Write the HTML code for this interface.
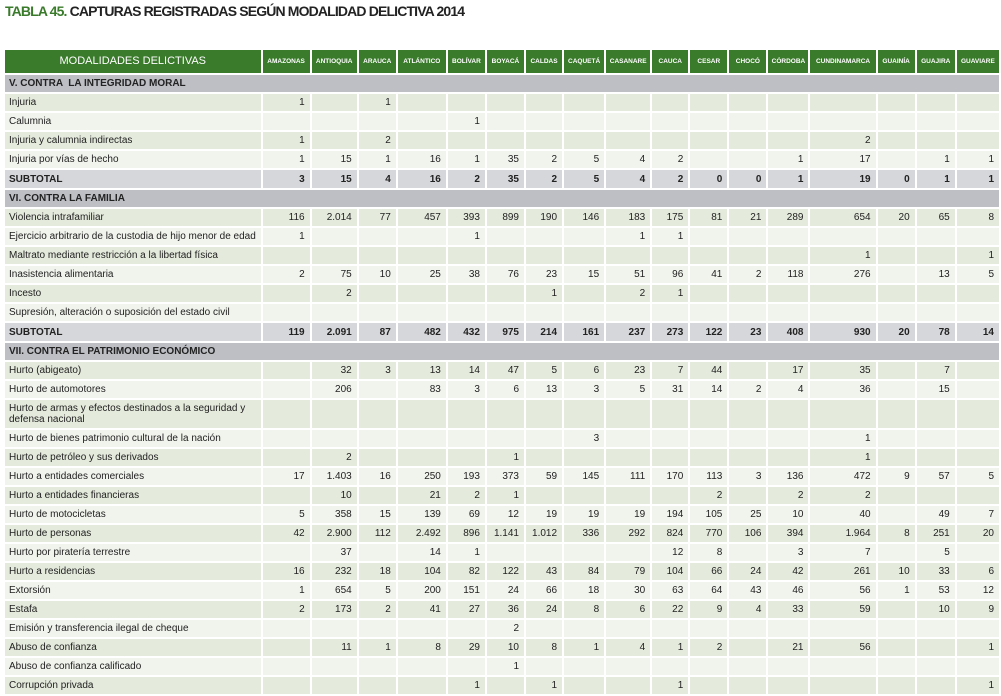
<!DOCTYPE html>
<html><head><meta charset="utf-8">
<style>
body{margin:0;background:#fff;width:1001px;height:695px;overflow:hidden;font-family:"Liberation Sans",sans-serif;}
.t{position:absolute;left:5px;top:3px;font-size:14px;font-weight:bold;color:#222;letter-spacing:-0.85px}
.t span{color:#3a7a2b}
table{position:absolute;left:3px;top:48px;border-collapse:separate;border-spacing:2px;table-layout:fixed;width:998px}
td{padding:0 5px 0 0;font-size:10px;color:#222;text-align:right;height:17px;white-space:nowrap;overflow:hidden;line-height:11px}
td:first-child{text-align:left;padding:0 0 0 4px}
tr.h td{background:#3a7a2b;color:#fff;font-weight:bold;font-size:6.5px;text-align:center;padding:0;height:23px}
tr.h td:first-child{font-size:11px;font-weight:normal;text-align:center}
tr.s td{background:#bdbfc4;font-weight:bold;font-size:10px}
tr.u td{background:#d6d7da;font-weight:bold;height:18px}
tr.d td{background:#e4eadc}
tr.l td{background:#f1f4ed}
tr.w td{height:28px}
tr.w td:first-child{white-space:normal}
</style></head><body>
<div class="t"><span>TABLA 45.</span> CAPTURAS REGISTRADAS SEGÚN MODALIDAD DELICTIVA 2014</div>
<table>
<colgroup><col style="width:255px"><col style="width:47px"><col style="width:45px"><col style="width:37px"><col style="width:48px"><col style="width:37px"><col style="width:37px"><col style="width:36px"><col style="width:40px"><col style="width:44px"><col style="width:36px"><col style="width:37px"><col style="width:37px"><col style="width:40px"><col style="width:65px"><col style="width:37px"><col style="width:38px"><col style="width:42px"></colgroup>
<tr class="h"><td>MODALIDADES DELICTIVAS</td><td>AMAZONAS</td><td>ANTIOQUIA</td><td>ARAUCA</td><td>ATLÁNTICO</td><td>BOLÍVAR</td><td>BOYACÁ</td><td>CALDAS</td><td>CAQUETÁ</td><td>CASANARE</td><td>CAUCA</td><td>CESAR</td><td>CHOCÓ</td><td>CÓRDOBA</td><td>CUNDINAMARCA</td><td>GUAINÍA</td><td>GUAJIRA</td><td>GUAVIARE</td></tr>
<tr class="s"><td colspan="18">V. CONTRA &nbsp;LA INTEGRIDAD MORAL</td></tr>
<tr class="d"><td>Injuria</td><td>1</td><td></td><td>1</td><td></td><td></td><td></td><td></td><td></td><td></td><td></td><td></td><td></td><td></td><td></td><td></td><td></td><td></td></tr>
<tr class="l"><td>Calumnia</td><td></td><td></td><td></td><td></td><td>1</td><td></td><td></td><td></td><td></td><td></td><td></td><td></td><td></td><td></td><td></td><td></td><td></td></tr>
<tr class="d"><td>Injuria y calumnia indirectas</td><td>1</td><td></td><td>2</td><td></td><td></td><td></td><td></td><td></td><td></td><td></td><td></td><td></td><td></td><td>2</td><td></td><td></td><td></td></tr>
<tr class="l"><td>Injuria por vías de hecho</td><td>1</td><td>15</td><td>1</td><td>16</td><td>1</td><td>35</td><td>2</td><td>5</td><td>4</td><td>2</td><td></td><td></td><td>1</td><td>17</td><td></td><td>1</td><td>1</td></tr>
<tr class="u"><td>SUBTOTAL</td><td>3</td><td>15</td><td>4</td><td>16</td><td>2</td><td>35</td><td>2</td><td>5</td><td>4</td><td>2</td><td>0</td><td>0</td><td>1</td><td>19</td><td>0</td><td>1</td><td>1</td></tr>
<tr class="s"><td colspan="18">VI. CONTRA LA FAMILIA</td></tr>
<tr class="d"><td>Violencia intrafamiliar</td><td>116</td><td>2.014</td><td>77</td><td>457</td><td>393</td><td>899</td><td>190</td><td>146</td><td>183</td><td>175</td><td>81</td><td>21</td><td>289</td><td>654</td><td>20</td><td>65</td><td>8</td></tr>
<tr class="l"><td>Ejercicio arbitrario de la custodia de hijo menor de edad</td><td>1</td><td></td><td></td><td></td><td>1</td><td></td><td></td><td></td><td>1</td><td>1</td><td></td><td></td><td></td><td></td><td></td><td></td><td></td></tr>
<tr class="d"><td>Maltrato mediante restricción a la libertad física</td><td></td><td></td><td></td><td></td><td></td><td></td><td></td><td></td><td></td><td></td><td></td><td></td><td></td><td>1</td><td></td><td></td><td>1</td></tr>
<tr class="l"><td>Inasistencia alimentaria</td><td>2</td><td>75</td><td>10</td><td>25</td><td>38</td><td>76</td><td>23</td><td>15</td><td>51</td><td>96</td><td>41</td><td>2</td><td>118</td><td>276</td><td></td><td>13</td><td>5</td></tr>
<tr class="d"><td>Incesto</td><td></td><td>2</td><td></td><td></td><td></td><td></td><td>1</td><td></td><td>2</td><td>1</td><td></td><td></td><td></td><td></td><td></td><td></td><td></td></tr>
<tr class="l"><td>Supresión, alteración o suposición del estado civil</td><td></td><td></td><td></td><td></td><td></td><td></td><td></td><td></td><td></td><td></td><td></td><td></td><td></td><td></td><td></td><td></td><td></td></tr>
<tr class="u"><td>SUBTOTAL</td><td>119</td><td>2.091</td><td>87</td><td>482</td><td>432</td><td>975</td><td>214</td><td>161</td><td>237</td><td>273</td><td>122</td><td>23</td><td>408</td><td>930</td><td>20</td><td>78</td><td>14</td></tr>
<tr class="s"><td colspan="18">VII. CONTRA EL PATRIMONIO ECONÓMICO</td></tr>
<tr class="d"><td>Hurto (abigeato)</td><td></td><td>32</td><td>3</td><td>13</td><td>14</td><td>47</td><td>5</td><td>6</td><td>23</td><td>7</td><td>44</td><td></td><td>17</td><td>35</td><td></td><td>7</td><td></td></tr>
<tr class="l"><td>Hurto de automotores</td><td></td><td>206</td><td></td><td>83</td><td>3</td><td>6</td><td>13</td><td>3</td><td>5</td><td>31</td><td>14</td><td>2</td><td>4</td><td>36</td><td></td><td>15</td><td></td></tr>
<tr class="d w"><td>Hurto de armas y efectos destinados a la seguridad y defensa nacional</td><td></td><td></td><td></td><td></td><td></td><td></td><td></td><td></td><td></td><td></td><td></td><td></td><td></td><td></td><td></td><td></td><td></td></tr>
<tr class="l"><td>Hurto de bienes patrimonio cultural de la nación</td><td></td><td></td><td></td><td></td><td></td><td></td><td></td><td>3</td><td></td><td></td><td></td><td></td><td></td><td>1</td><td></td><td></td><td></td></tr>
<tr class="d"><td>Hurto de petróleo y sus derivados</td><td></td><td>2</td><td></td><td></td><td></td><td>1</td><td></td><td></td><td></td><td></td><td></td><td></td><td></td><td>1</td><td></td><td></td><td></td></tr>
<tr class="l"><td>Hurto a entidades comerciales</td><td>17</td><td>1.403</td><td>16</td><td>250</td><td>193</td><td>373</td><td>59</td><td>145</td><td>111</td><td>170</td><td>113</td><td>3</td><td>136</td><td>472</td><td>9</td><td>57</td><td>5</td></tr>
<tr class="d"><td>Hurto a entidades financieras</td><td></td><td>10</td><td></td><td>21</td><td>2</td><td>1</td><td></td><td></td><td></td><td></td><td>2</td><td></td><td>2</td><td>2</td><td></td><td></td><td></td></tr>
<tr class="l"><td>Hurto de motocicletas</td><td>5</td><td>358</td><td>15</td><td>139</td><td>69</td><td>12</td><td>19</td><td>19</td><td>19</td><td>194</td><td>105</td><td>25</td><td>10</td><td>40</td><td></td><td>49</td><td>7</td></tr>
<tr class="d"><td>Hurto de personas</td><td>42</td><td>2.900</td><td>112</td><td>2.492</td><td>896</td><td>1.141</td><td>1.012</td><td>336</td><td>292</td><td>824</td><td>770</td><td>106</td><td>394</td><td>1.964</td><td>8</td><td>251</td><td>20</td></tr>
<tr class="l"><td>Hurto por piratería terrestre</td><td></td><td>37</td><td></td><td>14</td><td>1</td><td></td><td></td><td></td><td></td><td>12</td><td>8</td><td></td><td>3</td><td>7</td><td></td><td>5</td><td></td></tr>
<tr class="d"><td>Hurto a residencias</td><td>16</td><td>232</td><td>18</td><td>104</td><td>82</td><td>122</td><td>43</td><td>84</td><td>79</td><td>104</td><td>66</td><td>24</td><td>42</td><td>261</td><td>10</td><td>33</td><td>6</td></tr>
<tr class="l"><td>Extorsión</td><td>1</td><td>654</td><td>5</td><td>200</td><td>151</td><td>24</td><td>66</td><td>18</td><td>30</td><td>63</td><td>64</td><td>43</td><td>46</td><td>56</td><td>1</td><td>53</td><td>12</td></tr>
<tr class="d"><td>Estafa</td><td>2</td><td>173</td><td>2</td><td>41</td><td>27</td><td>36</td><td>24</td><td>8</td><td>6</td><td>22</td><td>9</td><td>4</td><td>33</td><td>59</td><td></td><td>10</td><td>9</td></tr>
<tr class="l"><td>Emisión y transferencia ilegal de cheque</td><td></td><td></td><td></td><td></td><td></td><td>2</td><td></td><td></td><td></td><td></td><td></td><td></td><td></td><td></td><td></td><td></td><td></td></tr>
<tr class="d"><td>Abuso de confianza</td><td></td><td>11</td><td>1</td><td>8</td><td>29</td><td>10</td><td>8</td><td>1</td><td>4</td><td>1</td><td>2</td><td></td><td>21</td><td>56</td><td></td><td></td><td>1</td></tr>
<tr class="l"><td>Abuso de confianza calificado</td><td></td><td></td><td></td><td></td><td></td><td>1</td><td></td><td></td><td></td><td></td><td></td><td></td><td></td><td></td><td></td><td></td><td></td></tr>
<tr class="d"><td>Corrupción privada</td><td></td><td></td><td></td><td></td><td>1</td><td></td><td>1</td><td></td><td></td><td>1</td><td></td><td></td><td></td><td></td><td></td><td></td><td>1</td></tr>
</table>
</body></html>
